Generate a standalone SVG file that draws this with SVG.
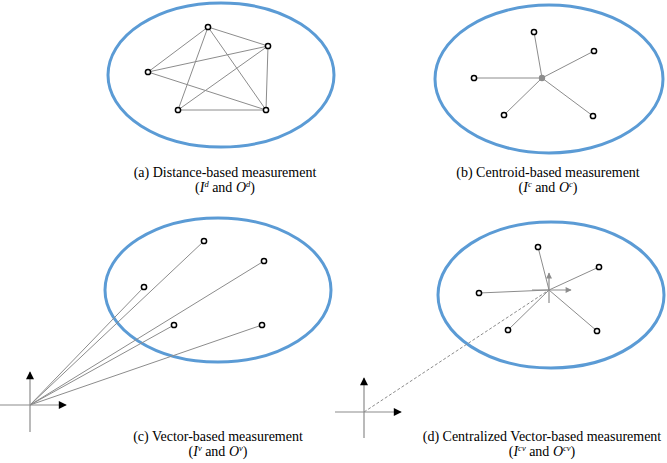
<svg xmlns="http://www.w3.org/2000/svg" width="667" height="463" viewBox="0 0 667 463">
<defs>
<style>
.ell{fill:none;stroke:#5b9bd5;stroke-width:3}
.edge{stroke:#8c8c8c;stroke-width:1;fill:none}
.axis{stroke:#8c8c8c;stroke-width:1.2;fill:none}
.pt{fill:#fff;stroke:#000;stroke-width:1.5}
.lbl{font-family:"Liberation Serif","Times New Roman",serif;font-size:14px;fill:#000;text-anchor:middle}
.it{font-style:italic}
.sup{font-style:italic;font-size:8.5px}
</style>
<marker id="ab" viewBox="0 0 10 10" refX="9" refY="5" markerWidth="10" markerHeight="8" markerUnits="userSpaceOnUse" orient="auto">
<path d="M0,0 L10,5 L0,10 z" fill="#000"/>
</marker>
<marker id="ag" viewBox="0 0 10 10" refX="9" refY="5" markerWidth="7" markerHeight="6" markerUnits="userSpaceOnUse" orient="auto">
<path d="M0,0 L10,5 L0,10 z" fill="#8c8c8c"/>
</marker>
</defs>

<!-- Panel (a) -->
<g id="panel-a">
<ellipse class="ell" cx="221" cy="75" rx="113" ry="72"/>
<g id="connectors-a">
<line class="edge" x1="208" y1="27" x2="268" y2="46"/>
<line class="edge" x1="208" y1="27" x2="148" y2="72"/>
<line class="edge" x1="208" y1="27" x2="178" y2="110"/>
<line class="edge" x1="208" y1="27" x2="266" y2="110"/>
<line class="edge" x1="268" y1="46" x2="148" y2="72"/>
<line class="edge" x1="268" y1="46" x2="178" y2="110"/>
<line class="edge" x1="268" y1="46" x2="266" y2="110"/>
<line class="edge" x1="148" y1="72" x2="266" y2="110"/>
<line class="edge" x1="178" y1="110" x2="266" y2="110"/>
</g>
<g id="a-n1"><circle class="pt" cx="208" cy="27" r="2.6"/></g>
<g id="a-n2"><circle class="pt" cx="268" cy="46" r="2.6"/></g>
<g id="a-n3"><circle class="pt" cx="148" cy="72" r="2.6"/></g>
<g id="a-n4"><circle class="pt" cx="178" cy="110" r="2.6"/></g>
<g id="a-n5"><circle class="pt" cx="266" cy="110" r="2.6"/></g>
<text class="lbl" x="225" y="177">(a) Distance-based measurement</text>
<text class="lbl" x="225" y="192">(<tspan class="it">I</tspan><tspan class="sup" dy="-5">d</tspan><tspan dy="5"> and </tspan><tspan class="it">O</tspan><tspan class="sup" dy="-5">d</tspan><tspan dy="5">)</tspan></text>
</g>

<!-- Panel (b) -->
<g id="panel-b">
<ellipse class="ell" cx="549" cy="79" rx="114" ry="74"/>
<g id="connectors-b">
<line class="edge" x1="542" y1="78" x2="534" y2="32"/>
<line class="edge" x1="542" y1="78" x2="594" y2="51"/>
<line class="edge" x1="542" y1="78" x2="474" y2="78"/>
<line class="edge" x1="542" y1="78" x2="504" y2="115"/>
<line class="edge" x1="542" y1="78" x2="593" y2="116"/>
</g>
<g id="b-centroid"><circle cx="542" cy="78" r="3.2" fill="#8c8c8c"/></g>
<g id="b-n1"><circle class="pt" cx="534" cy="32" r="2.6"/></g>
<g id="b-n2"><circle class="pt" cx="594" cy="51" r="2.6"/></g>
<g id="b-n3"><circle class="pt" cx="474" cy="78" r="2.6"/></g>
<g id="b-n4"><circle class="pt" cx="504" cy="115" r="2.6"/></g>
<g id="b-n5"><circle class="pt" cx="593" cy="116" r="2.6"/></g>
<text class="lbl" x="548" y="177">(b) Centroid-based measurement</text>
<text class="lbl" x="548" y="192">(<tspan class="it">I</tspan><tspan class="sup" dy="-5">c</tspan><tspan dy="5"> and </tspan><tspan class="it">O</tspan><tspan class="sup" dy="-5">c</tspan><tspan dy="5">)</tspan></text>
</g>

<!-- Panel (c) -->
<g id="panel-c">
<ellipse class="ell" cx="218" cy="290" rx="113" ry="72"/>
<g id="axes-c">
<line class="axis" x1="0" y1="405" x2="66" y2="405" marker-end="url(#ab)"/>
<line class="axis" x1="30" y1="432" x2="30" y2="372" marker-end="url(#ab)"/>
</g>
<g id="connectors-c">
<line class="edge" x1="30" y1="405" x2="204" y2="241"/>
<line class="edge" x1="30" y1="405" x2="264" y2="261"/>
<line class="edge" x1="30" y1="405" x2="144" y2="287"/>
<line class="edge" x1="30" y1="405" x2="174" y2="325"/>
<line class="edge" x1="30" y1="405" x2="262" y2="325"/>
</g>
<g id="c-n1"><circle class="pt" cx="204" cy="241" r="2.6"/></g>
<g id="c-n2"><circle class="pt" cx="264" cy="261" r="2.6"/></g>
<g id="c-n3"><circle class="pt" cx="144" cy="287" r="2.6"/></g>
<g id="c-n4"><circle class="pt" cx="174" cy="325" r="2.6"/></g>
<g id="c-n5"><circle class="pt" cx="262" cy="325" r="2.6"/></g>
<text class="lbl" x="218" y="441">(c) Vector-based measurement</text>
<text class="lbl" x="218" y="456">(<tspan class="it">I</tspan><tspan class="sup" dy="-5">v</tspan><tspan dy="5"> and </tspan><tspan class="it">O</tspan><tspan class="sup" dy="-5">v</tspan><tspan dy="5">)</tspan></text>
</g>

<!-- Panel (d) -->
<g id="panel-d">
<ellipse class="ell" cx="551" cy="295" rx="113" ry="73"/>
<g id="axes-d">
<line class="axis" x1="335" y1="412" x2="401" y2="412" marker-end="url(#ab)"/>
<line class="axis" x1="364" y1="438" x2="364" y2="378" marker-end="url(#ab)"/>
</g>
<g id="connectors-d">
<line class="edge" x1="364" y1="412" x2="549" y2="290" stroke-dasharray="3,2"/>
<line class="edge" x1="549" y1="290" x2="538" y2="247"/>
<line class="edge" x1="549" y1="290" x2="599" y2="267"/>
<line class="edge" x1="549" y1="290" x2="479" y2="293"/>
<line class="edge" x1="549" y1="290" x2="508" y2="330"/>
<line class="edge" x1="549" y1="290" x2="597" y2="331"/>
</g>
<g id="d-center-axes">
<line class="axis" x1="549" y1="303" x2="549" y2="273" marker-end="url(#ag)"/>
<line class="axis" x1="532" y1="290" x2="571" y2="290" marker-end="url(#ag)"/>
</g>
<g id="d-n1"><circle class="pt" cx="538" cy="247" r="2.6"/></g>
<g id="d-n2"><circle class="pt" cx="599" cy="267" r="2.6"/></g>
<g id="d-n3"><circle class="pt" cx="479" cy="293" r="2.6"/></g>
<g id="d-n4"><circle class="pt" cx="508" cy="330" r="2.6"/></g>
<g id="d-n5"><circle class="pt" cx="597" cy="331" r="2.6"/></g>
<text class="lbl" x="542" y="441">(d) Centralized Vector-based measurement</text>
<text class="lbl" x="542" y="456">(<tspan class="it">I</tspan><tspan class="sup" dy="-5">cv</tspan><tspan dy="5"> and </tspan><tspan class="it">O</tspan><tspan class="sup" dy="-5">cv</tspan><tspan dy="5">)</tspan></text>
</g>
</svg>
